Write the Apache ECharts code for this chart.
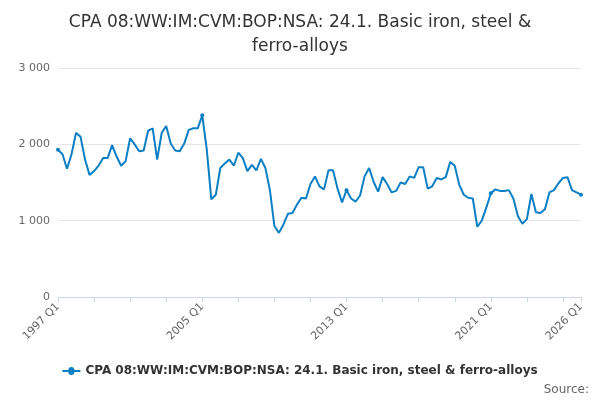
<!DOCTYPE html>
<html>
<head>
<meta charset="utf-8">
<script src="https://cdn.jsdelivr.net/npm/echarts@6/dist/echarts.min.js"></script>
<style>html,body{margin:0;padding:0;background:#fff}#main{width:600px;height:400px}</style>
</head>
<body>
<div id="main"></div>
<script>
var seriesName = 'CPA 08:WW:IM:CVM:BOP:NSA: 24.1. Basic iron, steel & ferro-alloys';
var years = [];
for (var y = 1997; y <= 2026; y++) years.push(y);
var quarters = [];
years.forEach(function (y) {
    for (var q = 1; q <= 4; q++) {
        if (y === 2026 && q > 1) break;
        quarters.push(y + ' Q' + q);
    }
});
var values = [
    1930, 1870, 1680, 1870, 2150, 2100, 1800, 1600, 1650, 1720, 1820, 1820,
    1990, 1840, 1720, 1780, 2080, 2000, 1910, 1920, 2180, 2210, 1800, 2150,
    2240, 2010, 1920, 1910, 2010, 2190, 2210, 2210, 2380, 1930, 1280, 1340,
    1690, 1750, 1800, 1720, 1890, 1820, 1650, 1730, 1660, 1810, 1690, 1400,
    930, 840, 950, 1090, 1100, 1210, 1300, 1290, 1480, 1580, 1450, 1410,
    1660, 1660, 1420, 1240, 1400, 1290, 1250, 1330, 1580, 1690, 1510, 1380,
    1570, 1480, 1370, 1390, 1500, 1480, 1580, 1560, 1700, 1700, 1420, 1450,
    1560, 1540, 1570, 1770, 1720, 1470, 1340, 1300, 1290, 920, 1000, 1170,
    1360, 1410, 1390, 1390, 1400, 1290, 1060, 960, 1020, 1350, 1110, 1100,
    1150, 1370, 1400, 1490, 1560, 1570, 1400, 1370, 1340
];
var last = quarters.length - 1;

var myChart = echarts.init(document.getElementById('main'));
var option = {
    title: {
        text: 'CPA 08:WW:IM:CVM:BOP:NSA: 24.1. Basic iron, steel &\nferro-alloys',
        left: 'center',
        top: 6,
        textStyle: { fontFamily: 'DejaVu Sans', fontSize: 17, fontWeight: 'normal', color: '#333', lineHeight: 24 }
    },
    legend: {
        bottom: 18,
        left: 'center',
        icon: 'path://M0,4L6,4A3,3 0 1 1 12,4L18,4L18,6L12,6A3,3 0 1 1 6,6L0,6Z',
        itemWidth: 18, itemHeight: 8,
        textStyle: { fontFamily: 'DejaVu Sans', fontSize: 12, fontWeight: 'bold', color: '#333' },
        selectedMode: false
    },
    graphic: [{
        type: 'text', right: 11, bottom: 4,
        style: { text: 'Source:', font: '12px DejaVu Sans', fill: '#666' }
    }],
    grid: { left: 58, right: 19, top: 68, bottom: 103 },
    xAxis: {
        type: 'category',
        data: quarters,
        boundaryGap: false,
        axisLine: { lineStyle: { color: '#ccd6eb' } },
        axisTick: { alignWithLabel: true, interval: function (i) { return i % 8 === 0 || i === last; }, lineStyle: { color: '#ccd6eb' } },
        axisLabel: {
            interval: function (i) { return i % 32 === 0 || i === last; },
            rotate: 45, color: '#666', fontFamily: 'DejaVu Sans', fontSize: 11
        }
    },
    yAxis: {
        type: 'value',
        min: 0, max: 3000, interval: 1000,
        axisLabel: {
            color: '#666', fontFamily: 'DejaVu Sans', fontSize: 11,
            formatter: function (v) { return v === 0 ? '0' : String(v).replace(/(\d)(?=(\d{3})+$)/g, '$1 '); }
        },
        splitLine: { lineStyle: { color: '#e6e6e6' } }
    },
    series: [{
        name: seriesName,
        type: 'line',
        data: values,
        symbol: 'circle',
        symbolSize: 4,
        itemStyle: { color: '#0a7fc4' },
        lineStyle: { width: 2, color: '#0a7fc4' },
        animation: false
    }]
};
myChart.setOption(option);
</script>
</body>
</html>
